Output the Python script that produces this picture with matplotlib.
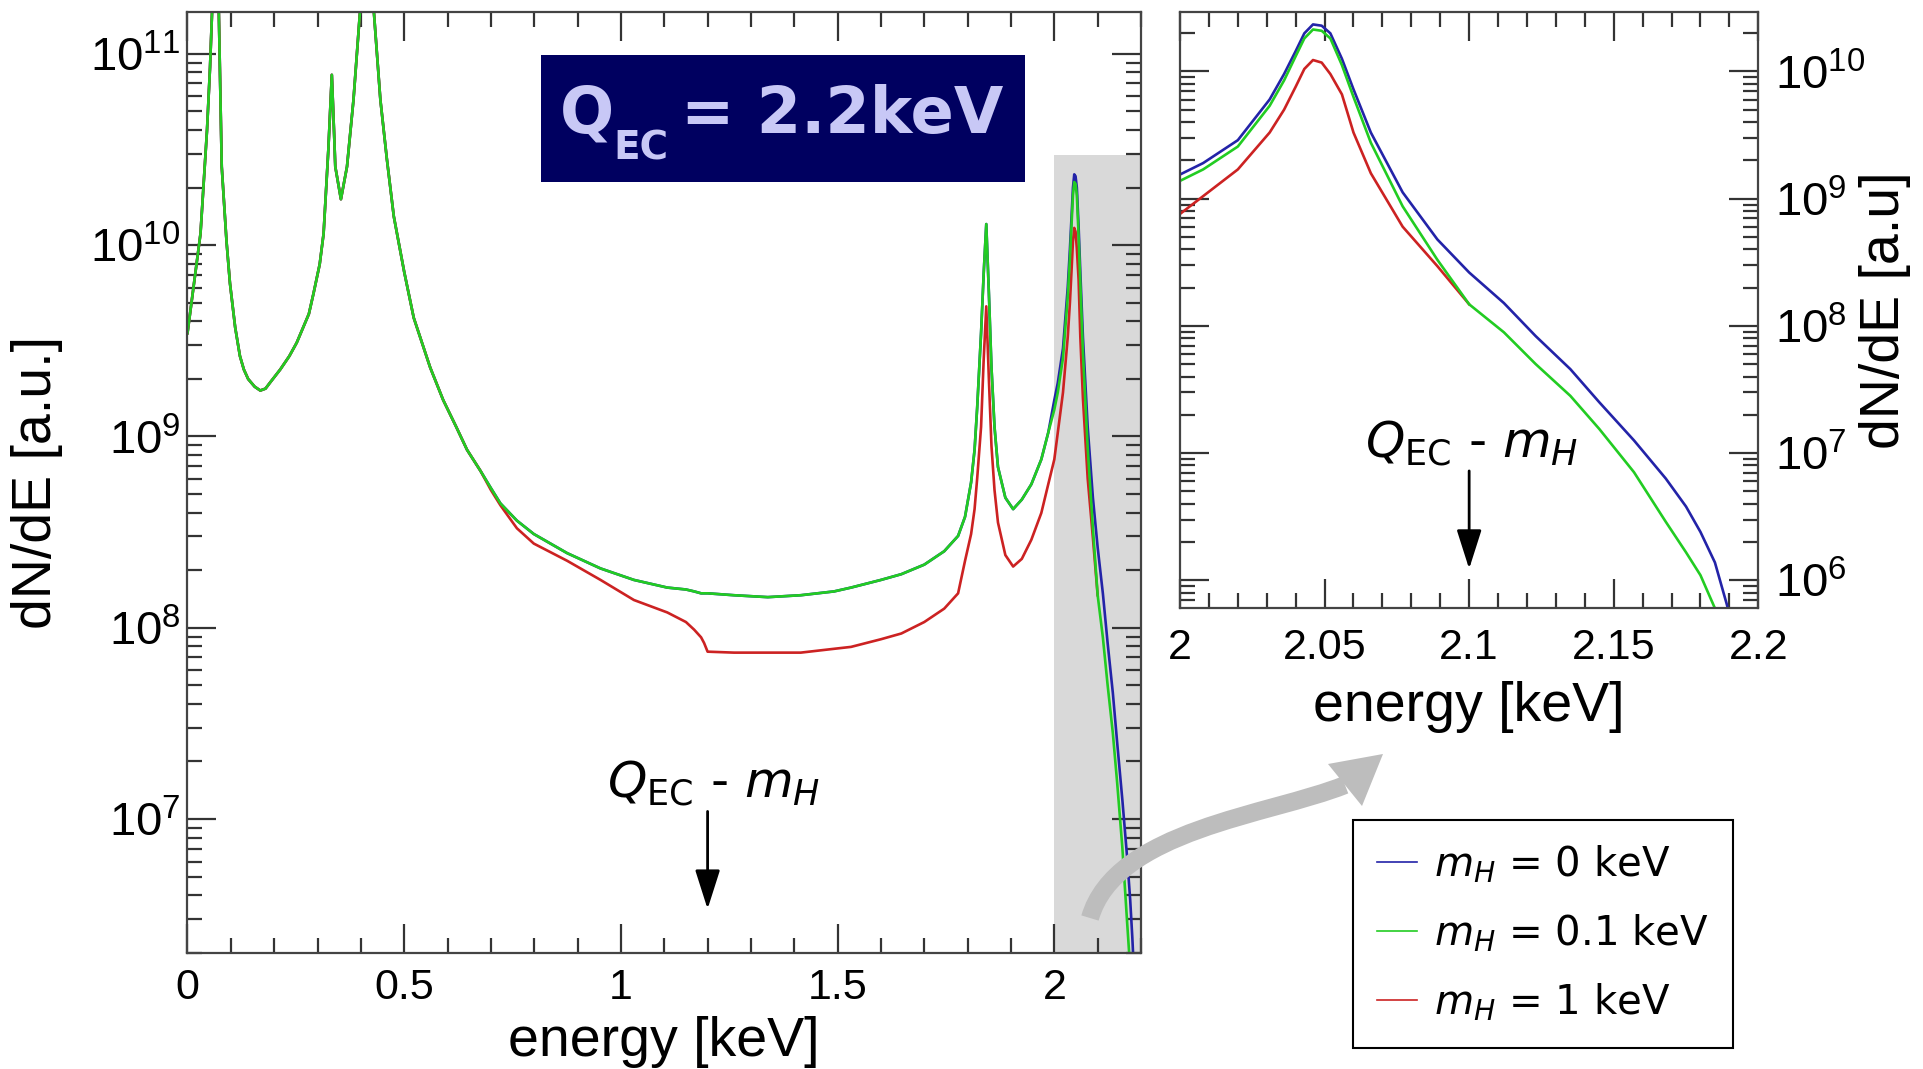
import numpy as np
import matplotlib
matplotlib.use("Agg")
import matplotlib.pyplot as plt
from matplotlib.lines import Line2D
from matplotlib.patches import Rectangle, PathPatch, Polygon
from matplotlib.path import Path
from matplotlib.ticker import LogLocator, NullFormatter, FuncFormatter, MultipleLocator

plt.rcParams['font.family'] = ['Liberation Sans', 'DejaVu Sans']
plt.rcParams['mathtext.fontset'] = 'dejavusans'

# ---- data (log10 of dN/dE) ----
# main panel, below 2 keV (m_H = 0 and m_H = 0.1 keV coincide here)
energy_main = [0.000, 0.015, 0.030, 0.045, 0.052, 0.058, 0.065, 0.072, 0.079, 0.090,
               0.098, 0.110, 0.121, 0.130, 0.140, 0.155, 0.168, 0.180, 0.190, 0.214,
               0.235, 0.252, 0.280, 0.291, 0.305, 0.314, 0.325, 0.333, 0.338, 0.341,
               0.354, 0.368, 0.383, 0.399, 0.415, 0.429, 0.445, 0.460, 0.476, 0.500,
               0.522, 0.560, 0.590, 0.620, 0.645, 0.676, 0.700, 0.722, 0.760, 0.799,
               0.876, 0.953, 1.030, 1.107, 1.150, 1.169, 1.185, 1.192, 1.200, 1.261,
               1.339, 1.415, 1.492, 1.531, 1.600, 1.647, 1.700, 1.746, 1.778, 1.794,
               1.808, 1.816, 1.822, 1.831, 1.837, 1.843, 1.849, 1.855, 1.862, 1.870,
               1.887, 1.905, 1.925, 1.947, 1.970, 1.986]
log_light_main = [9.54, 9.80, 10.06, 10.60, 10.93, 11.30, 11.70, 11.25, 10.41, 10.02,
                  9.80, 9.57, 9.42, 9.35, 9.30, 9.26, 9.24, 9.25, 9.28, 9.35,
                  9.42, 9.49, 9.64, 9.75, 9.90, 10.06, 10.50, 10.89, 10.60, 10.41,
                  10.24, 10.41, 10.76, 11.25, 11.80, 11.25, 10.76, 10.45, 10.15, 9.86,
                  9.62, 9.36, 9.19, 9.05, 8.93, 8.82, 8.73, 8.65, 8.56, 8.49,
                  8.39, 8.31, 8.25, 8.21, 8.20, 8.19, 8.18, 8.18, 8.18, 8.17,
                  8.16, 8.17, 8.19, 8.21, 8.25, 8.28, 8.33, 8.40, 8.48, 8.58,
                  8.76, 8.93, 9.15, 9.54, 9.85, 10.11, 9.75, 9.36, 9.05, 8.84,
                  8.68, 8.62, 8.67, 8.75, 8.88, 9.02]
log_heavy_main = [9.54, 9.80, 10.06, 10.60, 10.93, 11.30, 11.70, 11.25, 10.41, 10.02,
                  9.80, 9.57, 9.42, 9.35, 9.30, 9.26, 9.24, 9.25, 9.28, 9.35,
                  9.42, 9.49, 9.64, 9.75, 9.90, 10.06, 10.50, 10.89, 10.60, 10.41,
                  10.24, 10.41, 10.76, 11.25, 11.80, 11.25, 10.76, 10.45, 10.15, 9.86,
                  9.62, 9.36, 9.19, 9.05, 8.93, 8.82, 8.72, 8.64, 8.52, 8.44,
                  8.35, 8.25, 8.145, 8.08, 8.03, 7.99, 7.95, 7.92, 7.875, 7.87,
                  7.87, 7.87, 7.89, 7.90, 7.94, 7.97, 8.03, 8.10, 8.18, 8.35,
                  8.49, 8.62, 8.78, 9.05, 9.40, 9.68, 9.30, 8.95, 8.72, 8.55,
                  8.38, 8.32, 8.36, 8.46, 8.60, 8.75]

# zoomed region 2.0 - 2.2 keV
energy_zoom = [2.000, 2.008, 2.020, 2.031, 2.036, 2.040, 2.043, 2.046, 2.049, 2.052,
               2.056, 2.060, 2.066, 2.077, 2.089, 2.100, 2.112, 2.123, 2.135, 2.145,
               2.157, 2.168, 2.175, 2.180, 2.185, 2.189, 2.195]
log_m0_zoom = [9.19, 9.28, 9.46, 9.78, 9.98, 10.16, 10.30, 10.37, 10.36, 10.30,
               10.10, 9.86, 9.52, 9.05, 8.68, 8.42, 8.18, 7.92, 7.66, 7.40,
               7.10, 6.80, 6.58, 6.38, 6.14, 5.82, 5.30]
log_m01_zoom = [9.14, 9.23, 9.41, 9.73, 9.93, 10.12, 10.26, 10.33, 10.32, 10.26,
                10.05, 9.80, 9.44, 8.94, 8.52, 8.17, 7.95, 7.70, 7.45, 7.19,
                6.85, 6.46, 6.22, 6.04, 5.78, 5.50, 5.00]
log_m1_zoom = [8.88, 9.02, 9.23, 9.52, 9.70, 9.88, 10.02, 10.09, 10.07, 9.98,
               9.82, 9.52, 9.20, 8.78, 8.47, 8.17]

zoom_xlim = [2.0, 2.2]
zoom_ylim = [10 ** 5.78, 10 ** 10.47]
main_xlim = [0.0, 2.2]
main_ylim = [10 ** 6.30, 10 ** 11.22]

q_arrow_main = 1.2      # Q_EC - m_H for m_H = 1 keV
q_arrow_zoom = 2.1      # Q_EC - m_H for m_H = 0.1 keV
labels = [r'$m_H$ = 0 keV', r'$m_H$ = 0.1 keV', r'$m_H$ = 1 keV']
colors = ['#2323a8', '#22cc22', '#cc2222']

# ---- figure ----
W, H = 1924, 1069
fig = plt.figure(figsize=(W / 100, H / 100), dpi=100)


def fx(px):
    return px / W


def fy(py):
    return 1 - py / H


ax = fig.add_axes([fx(187.5), fy(953), (1141 - 187.5) / W, (953 - 11.7) / H])
axz = fig.add_axes([fx(1180), fy(608.3), (1758.3 - 1180) / W, (608.3 - 11.7) / H])

e_full = np.concatenate([energy_main, energy_zoom])
y_m0 = 10 ** np.concatenate([log_light_main, log_m0_zoom])
y_m01 = 10 ** np.concatenate([log_light_main, log_m01_zoom])
y_m1 = 10 ** np.concatenate([log_heavy_main, log_m1_zoom])
n_red = len(energy_main) + len(log_m1_zoom)

# shaded zoom window
ax.fill_between(zoom_xlim, zoom_ylim[0] / 100, zoom_ylim[1], color='#d9d9d9', lw=0, zorder=0)

ax.plot(e_full, y_m0, color=colors[0], lw=1.9)
ax.plot(e_full[:n_red], y_m1, color=colors[2], lw=1.9)
ax.plot(e_full, y_m01, color=colors[1], lw=1.9)

axz.plot(energy_zoom, 10 ** np.array(log_m0_zoom), color=colors[0], lw=1.9)
axz.plot(energy_zoom[:len(log_m1_zoom)], 10 ** np.array(log_m1_zoom), color=colors[2], lw=1.9)
axz.plot(energy_zoom, 10 ** np.array(log_m01_zoom), color=colors[1], lw=1.9)

pow_fmt = FuncFormatter(lambda v, p: r'$\mathregular{10^{%d}}$' % round(np.log10(v)))

for a in (ax, axz):
    a.set_yscale('log')
    a.yaxis.set_major_locator(LogLocator(base=10, numticks=20))
    a.yaxis.set_minor_locator(LogLocator(base=10, subs=np.arange(2, 10), numticks=20))
    a.yaxis.set_minor_formatter(NullFormatter())
    a.yaxis.set_major_formatter(pow_fmt)
    a.tick_params(which='both', direction='in', top=True, right=True, width=1.6,
                  color='#333333')
    a.tick_params(axis='x', labelsize=31)
    a.tick_params(axis='y', labelsize=34)
    a.tick_params(which='major', length=21)
    a.tick_params(which='minor', length=11)
    for s in a.spines.values():
        s.set_linewidth(1.6)
        s.set_color('#444444')

ax.set_xlim(main_xlim)
ax.set_ylim(main_ylim)
ax.xaxis.set_major_locator(MultipleLocator(0.5))
ax.xaxis.set_minor_locator(MultipleLocator(0.1))
ax.xaxis.set_major_formatter(FuncFormatter(lambda v, p: '%g' % v))
ax.tick_params(axis='x', pad=11)
ax.tick_params(axis='y', pad=5)
ax.set_xlabel('energy [keV]', fontsize=40)
ax.set_ylabel('dN/dE [a.u.]', fontsize=40)
ax.xaxis.set_label_coords(0.5, -0.067)
ax.yaxis.set_label_coords(-0.131, 0.5)

axz.set_xlim(zoom_xlim)
axz.set_ylim(zoom_ylim)
axz.xaxis.set_major_locator(MultipleLocator(0.05))
axz.xaxis.set_minor_locator(MultipleLocator(0.01))
axz.xaxis.set_major_formatter(FuncFormatter(lambda v, p: '%g' % round(v, 2)))
axz.yaxis.tick_right()
axz.tick_params(which='both', left=True, right=True)
axz.tick_params(axis='x', pad=14)
axz.tick_params(axis='y', pad=12)
axz.set_xlabel('energy [keV]', fontsize=40)
axz.yaxis.set_label_position('right')
axz.set_ylabel('dN/dE [a.u]', fontsize=40)
axz.xaxis.set_label_coords(0.5, -0.122)
axz.yaxis.set_label_coords(1.174, 0.5)

# Q_EC - m_H markers
arrow_kw = dict(arrowstyle='-|>,head_width=0.35,head_length=1.1', color='black',
                lw=2, mutation_scale=22, shrinkA=0, shrinkB=0)
ax.annotate('', xy=(q_arrow_main, 10 ** 6.53), xytext=(q_arrow_main, 10 ** 7.04),
            arrowprops=arrow_kw)
ax.text(q_arrow_main + 0.014, 10 ** 7.06, r'$Q_{\mathrm{EC}}$ - $m_H$', fontsize=36,
        family='DejaVu Sans', ha='center', va='bottom')
axz.annotate('', xy=(q_arrow_zoom, 10 ** 6.09), xytext=(q_arrow_zoom, 10 ** 6.86),
             arrowprops=arrow_kw)
axz.text(q_arrow_zoom + 0.001, 10 ** 6.88, r'$Q_{\mathrm{EC}}$ - $m_H$', fontsize=36,
         family='DejaVu Sans', ha='center', va='bottom')

# Q_EC box
fig.add_artist(Rectangle((fx(541), fy(181.6)), 483.5 / W, 126.6 / H,
                         transform=fig.transFigure, facecolor='#000060', edgecolor='none'))
box_txt = dict(fontweight='bold', family='DejaVu Sans', color='#c8c8f6',
               va='baseline', ha='left', zorder=5)
fig.text(fx(560), fy(133), 'Q', fontsize=46, **box_txt)
fig.text(fx(613), fy(159), 'EC', fontsize=28, **box_txt)
fig.text(fx(681), fy(133), '= 2.2keV', fontsize=46, **box_txt)

# grey curved arrow from the shaded window to the zoom panel
pts = [(1090, 918), (1115, 830), (1270, 815), (1345, 785)]
verts = [(fx(x), fy(y)) for x, y in pts]
body = PathPatch(Path(verts, [Path.MOVETO, Path.CURVE4, Path.CURVE4, Path.CURVE4]),
                 transform=fig.transFigure, facecolor='none', edgecolor='#bdbdbd',
                 lw=13, capstyle='butt')
fig.add_artist(body)
head = Polygon([(fx(1362), fy(806)), (fx(1328), fy(764)), (fx(1383), fy(754))],
               closed=True, transform=fig.transFigure, facecolor='#bdbdbd', edgecolor='none')
fig.add_artist(head)

# legend
handles = [Line2D([], [], color=c, lw=1.2) for c in colors]
leg = fig.legend(handles, labels, loc='upper left', bbox_to_anchor=(fx(1353), fy(819.6)),
                 prop={'family': 'DejaVu Sans', 'size': 29}, frameon=True, fancybox=False,
                 edgecolor='black', framealpha=1, borderaxespad=0, borderpad=0.6,
                 handlelength=1.0, handletextpad=0.4, labelspacing=0.68)
leg.get_frame().set_linewidth(1.5)

fig.savefig('out.png', dpi=100)
